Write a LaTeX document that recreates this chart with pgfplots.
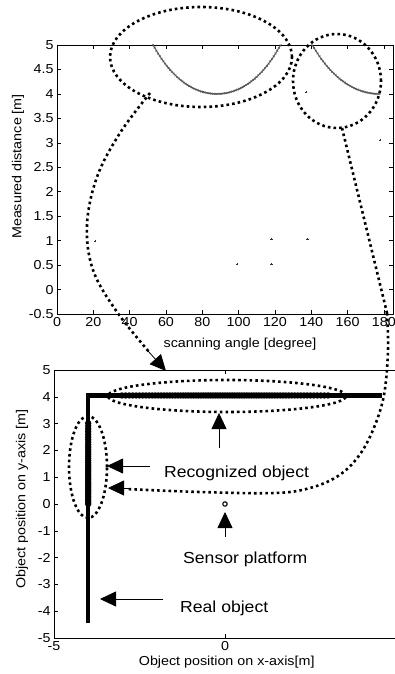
\documentclass[border=0pt]{standalone}
\usepackage{pgfplots}
\pgfplotsset{compat=1.18}
\usepackage{fontspec}
\setmainfont{Liberation Sans}[FakeStretch=1.1]
\usetikzlibrary{arrows.meta}

\begin{document}
\begin{tikzpicture}
\useasboundingbox (0,0) rectangle (395pt,-674pt);
\pgfplotsset{
  myax/.style={
    scale only axis,
    axis line style={line width=0.9pt},
    tick style={black, line width=0.5pt},
    major tick length=4pt,
    tick label style={font=\fontsize{13}{13}\selectfont},
    label style={font=\fontsize{13}{15}\selectfont},
    /pgf/number format/assume math mode=true,
  }
}
% ---------------- top: measured distance vs scanning angle
\begin{axis}[myax,
  at={(57pt,-314pt)}, anchor=south west,
  width=336pt, height=269pt,
  xmin=0, xmax=185, ymin=-0.5, ymax=5,
  xtick={0,20,40,60,80,100,120,140,160,180},
  ytick={-0.5,0,0.5,1,1.5,2,2.5,3,3.5,4,4.5,5},
  yticklabels={-0.5,0,0.5,1,1.5,2,2.5,3,3.5,4,4.5,5},
  xlabel={scanning angle [degree]},
  ylabel={Measured distance [m]},
  xlabel style={at={([xshift=15pt,yshift=-30pt]axis description cs:0.5,0)}, anchor=center},
  ylabel style={at={([xshift=-39pt,yshift=13pt]axis description cs:0,0.5)}, anchor=center},
]
\addplot[black!55, line width=1.1pt, mark=x, mark size=1.3pt, mark options={black!70, line width=0.4pt}] coordinates {
(52.85,4.995) (53.8,4.944) (54.75,4.883) (55.7,4.825) (56.65,4.769) (57.6,4.717) (58.55,4.667) (59.5,4.619)
(60.45,4.573) (61.4,4.530) (62.35,4.489) (63.3,4.450) (64.25,4.414) (65.2,4.379) (66.15,4.345) (67.1,4.314)
(68.05,4.285) (69,4.257) (69.95,4.231) (70.9,4.206) (71.85,4.183) (72.8,4.161) (73.75,4.141) (74.7,4.122)
(75.65,4.105) (76.6,4.089) (77.55,4.075) (78.5,4.062) (79.45,4.050) (80.4,4.039) (81.35,4.030) (82.3,4.022)
(83.25,4.015) (84.2,4.010) (85.15,4.005) (86.1,4.002) (87.05,4.001) (88,4.000) (88.95,4.001) (89.9,4.002)
(90.85,4.005) (91.8,4.010) (92.75,4.015) (93.7,4.022) (94.65,4.030) (95.6,4.039) (96.55,4.050) (97.5,4.062)
(98.45,4.075) (99.4,4.089) (100.35,4.105) (101.3,4.122) (102.25,4.141) (103.2,4.161) (104.15,4.183) (105.1,4.206)
(106.05,4.231) (107,4.257) (107.95,4.285) (108.9,4.314) (109.85,4.345) (110.8,4.379) (111.75,4.414) (112.7,4.450)
(113.65,4.489) (114.6,4.530) (115.55,4.573) (116.5,4.619) (117.45,4.667) (118.4,4.717) (119.35,4.769) (120.3,4.825)
(121.25,4.883) (122.2,4.944) (123.15,4.995)
};
\addplot[black!55, line width=1.1pt, mark=x, mark size=1.3pt, mark options={black!70, line width=0.4pt}] coordinates {
(140.5,4.995) (141.5,4.944) (142.5,4.883) (143.5,4.825) (144.5,4.769) (145.5,4.717) (146.5,4.667) (147.5,4.619)
(148.5,4.573) (149.5,4.530) (150.5,4.489) (151.5,4.450) (152.5,4.414) (153.5,4.379) (154.5,4.345) (155.5,4.314)
(156.5,4.285) (157.5,4.257) (158.5,4.231) (159.5,4.206) (160.5,4.183) (161.5,4.161) (162.5,4.141) (163.5,4.122)
(164.5,4.105) (165.5,4.089) (166.5,4.075) (167.5,4.062) (168.5,4.050) (169.5,4.039) (170.5,4.030) (171.5,4.022)
(172.5,4.015) (173.5,4.010) (174.5,4.005) (175.5,4.002) (176.5,4.001) (177.5,4.000)
};
\addplot[only marks, mark=+, mark size=1.2pt, black!80, line width=0.4pt] coordinates {
(21,0.99) (99,0.52) (118,1.03) (118,0.52) (138,1.03) (137,4.04) (178,3.06)
};
\end{axis}
% ---------------- bottom: object positions
\begin{axis}[myax,
  at={(54pt,-638pt)}, anchor=south west,
  width=345.4pt, height=268pt,
  xmin=-5, xmax=5.1, ymin=-5, ymax=5,
  xtick={-5,0},
  ytick={-5,-4,-3,-2,-1,0,1,2,3,4,5},
  xlabel={Object position on x-axis[m]},
  ylabel={Object position on y-axis [m]},
  xlabel style={at={([yshift=-24pt]axis description cs:0.5,0)}, anchor=center},
  ylabel style={at={([xshift=-32pt,yshift=5pt]axis description cs:0,0.5)}, anchor=center},
]
% real object
\addplot[black, line width=4.5pt, line join=miter] coordinates {(-4,-4.45) (-4,4.05) (4.6,4.05)};
% recognized object (horizontal wall)
\addplot[only marks, mark=o, mark size=2.5pt, mark options={black, fill=white, line width=1.3pt}] coordinates {
(-3.014,4.05) (-2.906,4.05) (-2.801,4.05) (-2.698,4.05) (-2.598,4.05) (-2.500,4.05) (-2.403,4.05) (-2.309,4.05)
(-2.217,4.05) (-2.127,4.05) (-2.038,4.05) (-1.951,4.05) (-1.865,4.05) (-1.781,4.05) (-1.698,4.05) (-1.616,4.05)
(-1.535,4.05) (-1.456,4.05) (-1.377,4.05) (-1.300,4.05) (-1.223,4.05) (-1.147,4.05) (-1.072,4.05) (-0.997,4.05)
(-0.923,4.05) (-0.850,4.05) (-0.778,4.05) (-0.705,4.05) (-0.634,4.05) (-0.562,4.05) (-0.491,4.05) (-0.420,4.05)
(-0.350,4.05) (-0.280,4.05) (-0.210,4.05) (-0.140,4.05) (-0.070,4.05) (0,4.05)
(0.070,4.05) (0.140,4.05) (0.210,4.05) (0.280,4.05) (0.350,4.05) (0.420,4.05) (0.491,4.05) (0.562,4.05)
(0.634,4.05) (0.705,4.05) (0.778,4.05) (0.850,4.05) (0.923,4.05) (0.997,4.05) (1.072,4.05) (1.147,4.05)
(1.223,4.05) (1.300,4.05) (1.377,4.05) (1.456,4.05) (1.535,4.05) (1.616,4.05) (1.698,4.05) (1.781,4.05)
(1.865,4.05) (1.951,4.05) (2.038,4.05) (2.127,4.05) (2.217,4.05) (2.309,4.05) (2.403,4.05) (2.500,4.05)
(2.598,4.05) (2.698,4.05) (2.801,4.05) (2.906,4.05) (3.014,4.05)
};
% recognized object (vertical wall)
\addplot[only marks, mark=o, mark size=2.5pt, mark options={black, fill=white, line width=1.3pt}] coordinates {
(-4,3.014) (-4,2.906) (-4,2.801) (-4,2.698) (-4,2.598) (-4,2.500) (-4,2.403) (-4,2.309)
(-4,2.217) (-4,2.127) (-4,2.038) (-4,1.951) (-4,1.865) (-4,1.781) (-4,1.698) (-4,1.616)
(-4,1.535) (-4,1.456) (-4,1.377) (-4,1.300) (-4,1.223) (-4,1.147) (-4,1.072) (-4,0.997)
(-4,0.923) (-4,0.850) (-4,0.778) (-4,0.705) (-4,0.634) (-4,0.562) (-4,0.491) (-4,0.420)
(-4,0.350) (-4,0.280) (-4,0.210) (-4,0.140) (-4,0.070) (-4,0)
};
% sensor platform
\addplot[only marks, mark=o, mark size=2.2pt, mark options={black, fill=white, line width=1.1pt}] coordinates {(0,0)};
\end{axis}
% ---------------- annotations (pixel coordinates, y downwards)
\begin{scope}[x=1pt, y=-1pt,
  dots/.style={line width=2.6pt, dash pattern=on 2.6pt off 3.1pt},
  arr/.style={line width=0.8pt, -{Triangle[length=16pt,width=15pt]}}]
\draw[dots] (201,57) ellipse [x radius=91pt, y radius=50pt];
\draw[dots] (337,81) ellipse [x radius=44pt, y radius=47pt];
\draw[dots] plot[smooth, tension=0.6] coordinates {(150,93) (120,133) (97,177) (87,225) (93,270) (117,312) (150,353)};
\draw[arr] (148,351) -- (166,371);
\draw[dots] (342,128) -- (387,313);
\draw[dots] plot[smooth, tension=0.6] coordinates {(387,313) (388,350) (384,395) (373,430) (358,457) (338,476) (310,488) (275,493) (200,492) (126,489)};
\draw[arr] (130,488) -- (108,488);
\draw[dots] (227,396) ellipse [x radius=119pt, y radius=16pt];
\draw[dots] (88,467) ellipse [x radius=19pt, y radius=51pt];
\draw[arr] (219,448) -- (219,413);
\draw[arr] (150,466) -- (107,466);
\draw[arr] (225,537) -- (225,512);
\draw[arr] (163,599) -- (100,599);
\node[anchor=base west, inner sep=0pt, font=\fontsize{16}{16}\selectfont] at (164,477) {Recognized object};
\node[anchor=base west, inner sep=0pt, font=\fontsize{16}{16}\selectfont] at (183,563) {Sensor platform};
\node[anchor=base west, inner sep=0pt, font=\fontsize{16}{16}\selectfont] at (180,612) {Real object};
\end{scope}
\end{tikzpicture}
\end{document}
